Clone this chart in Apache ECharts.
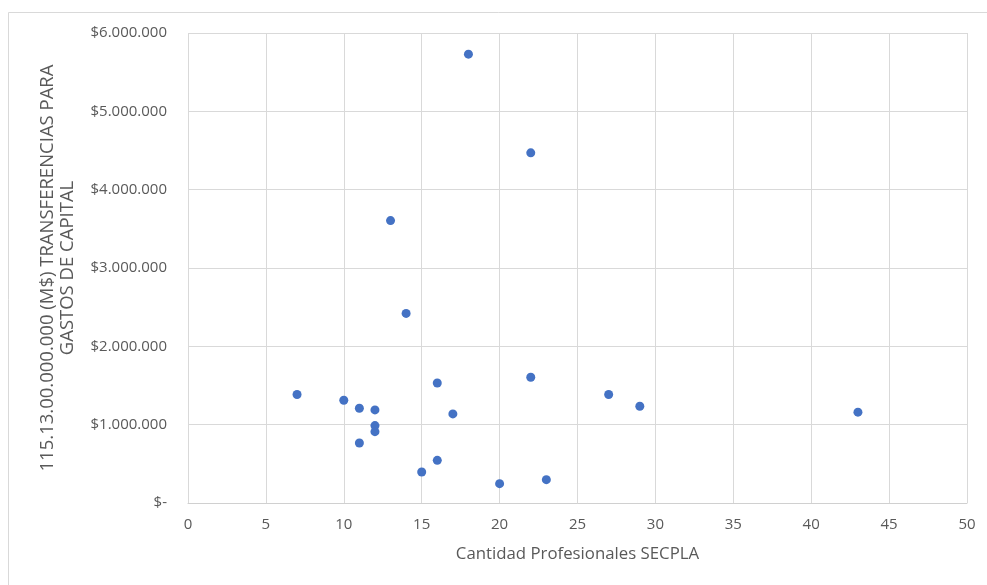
<!DOCTYPE html>
<html>
<head>
<meta charset="utf-8">
<script src="https://cdn.jsdelivr.net/npm/echarts@6/dist/echarts.min.js"></script>
<style>
html,body{margin:0;padding:0;background:#fff;}
#chart{width:987px;height:585px;}
</style>
</head>
<body>
<div id="chart"></div>
<script>
const profesionales = [18, 22, 13, 14, 22, 16, 7, 27, 10, 29, 11, 12, 43, 17, 12, 12, 11, 16, 15, 23, 20];
const transferencias = [5730000, 4470000, 3605000, 2420000, 1605000, 1532000, 1385000, 1385000, 1312000, 1235000, 1210000, 1188000, 1160000, 1137000, 988000, 911000, 766000, 545000, 396000, 298000, 247000];
const xTitle = 'Cantidad Profesionales SECPLA';
const yTitle = '115.13.00.000.000 (M$) TRANSFERENCIAS PARA\nGASTOS DE CAPITAL';

const points = profesionales.map((x, i) => [x, transferencias[i]]);

function fmtMoney(v) {
  if (v === 0) return '$-';
  return '$' + String(Math.round(v)).replace(/\B(?=(\d{3})+(?!\d))/g, '.');
}

const chart = echarts.init(document.getElementById('chart'));
const font = '"Open Sans", "Liberation Sans", sans-serif';
chart.setOption({
  animation: false,
  backgroundColor: '#fff',
  graphic: [{
    type: 'rect',
    shape: { x: 8.5, y: 12.5, width: 1000, height: 600 },
    style: { fill: 'none', stroke: '#d9d9d9', lineWidth: 1 },
    silent: true
  }],
  grid: { left: 188, right: 20, top: 33, bottom: 82, containLabel: false },
  xAxis: {
    type: 'value',
    min: 0, max: 50, interval: 5,
    name: xTitle,
    nameLocation: 'middle',
    nameGap: 43,
    nameTextStyle: { color: '#595959', fontSize: 16.8, fontFamily: font },
    axisLine: { show: true, lineStyle: { color: '#d0d0d0', width: 1 } },
    axisTick: { show: false },
    axisLabel: { color: '#595959', fontSize: 15, fontFamily: font, margin: 14 },
    splitLine: { show: true, lineStyle: { color: '#d9d9d9', width: 1 } }
  },
  yAxis: {
    type: 'value',
    min: 0, max: 6000000, interval: 1000000,
    name: yTitle,
    nameLocation: 'middle',
    nameGap: 110,
    nameTextStyle: { color: '#595959', fontSize: 18.5, fontFamily: font, lineHeight: 20, align: 'center' },
    axisLine: { show: false },
    axisTick: { show: false },
    axisLabel: { color: '#595959', fontSize: 15, fontFamily: font, margin: 21, formatter: fmtMoney },
    splitLine: { show: true, lineStyle: { color: '#d9d9d9', width: 1 } }
  },
  series: [{
    type: 'scatter',
    data: points,
    symbol: 'circle',
    symbolSize: 9,
    itemStyle: { color: '#4472C4', opacity: 1 }
  }]
});
</script>
</body>
</html>
